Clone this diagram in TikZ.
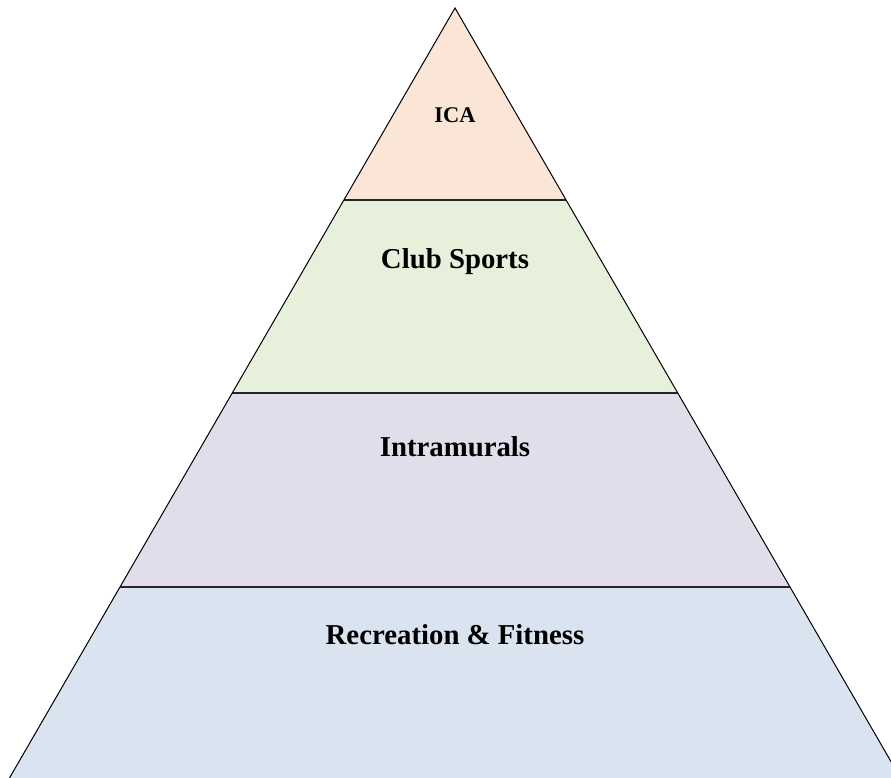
\documentclass[tikz,border=0pt]{standalone}
\usepackage{fontspec}
\setmainfont{Liberation Serif}
\usepackage{tikz}
\usetikzlibrary{calc}
\definecolor{icafill}{HTML}{FBE5D6}
\definecolor{clubfill}{HTML}{E6F0DB}
\definecolor{intrafill}{HTML}{E2DDEA}
\definecolor{recfill}{HTML}{DAE3F0}
\tikzset{
side/.style={draw=black, line width=0.5pt},
divider/.style={draw=black!85, line width=1pt},
layertext/.style={font=\fontsize{14.4}{17}\selectfont\bfseries, inner sep=0},
toptext/.style={layertext, font=\fontsize{11.2}{13}\selectfont\bfseries}}

\begin{document}
\begin{tikzpicture}[x=0.5pt, y=-0.5pt]
\useasboundingbox (0,0) rectangle (891,778);
\clip (0,0) rectangle (891,778);
\coordinate (apex) at (455,8);
\foreach \ya/\yb/\col/\ty/\txt/\sty [count=\i, evaluate={\wa=0.5786*(\ya-8); \wb=0.5786*(\yb-8);}] in {
      8/200/icafill/115/ICA/toptext,
      200/393/clubfill/262/Club Sports/layertext,
      393/587/intrafill/447/Intramurals/layertext,
      587/800/recfill/635/Recreation \& Fitness/layertext}{
      \coordinate (L-\i) at ({455-\wb},\yb);
      \coordinate (R-\i) at ({455+\wb},\yb);
      \fill [\col] ({455-\wa},\ya) -- ({455+\wa},\ya) -- (R-\i) -- (L-\i) -- cycle;
      \node [\sty] at (455,\ty) (lbl-\i) {\txt};
}
% layer borders
\foreach \i in {1,2,3}{
      \draw [divider] (L-\i) -- (R-\i);
}
\draw [side] (L-4) -- (apex) -- (R-4);
\end{tikzpicture}
\end{document}
